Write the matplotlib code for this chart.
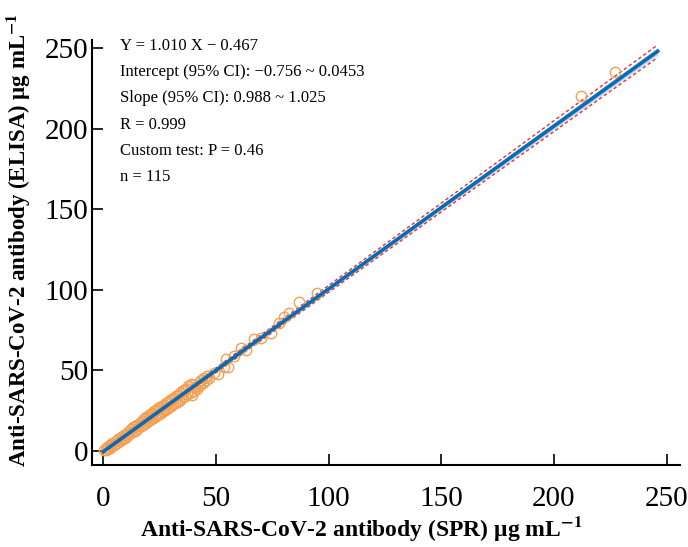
import matplotlib
matplotlib.use("Agg")
import matplotlib.pyplot as plt
import numpy as np

plt.rcParams['font.family'] = ['Liberation Serif', 'DejaVu Serif']
plt.rcParams['mathtext.fontset'] = 'stix'

spr = [0.5, 1.2, 1.6, 2.0, 2.8, 3.0, 3.5, 4.1, 4.8, 5.5, 6.0, 6.7, 7.3, 8.0, 8.6, 9.2, 9.5, 9.9,
       10.5, 11.0, 11.6, 12.2, 12.8, 13.3, 13.9, 14.0, 14.4, 15.0, 15.5, 16.1, 16.6, 17.2, 17.7,
       18.1, 18.6, 18.9, 19.0, 19.5, 19.9, 20.4, 20.8, 21.0, 21.3, 21.7, 22.1, 22.6, 23.0, 23.4,
       23.9, 24.3, 24.7, 25.2, 25.6, 26.0, 26.5, 26.9, 27.0, 27.3, 27.8, 28.2, 28.6, 29.1, 29.5,
       30.0, 30.4, 30.9, 31.3, 31.8, 32.2, 32.7, 33.1, 33.6, 34.0, 34.5, 35.0, 35.4, 35.9, 36.4,
       36.9, 37.3, 37.8, 38.3, 38.8, 39.3, 39.8, 40.3, 40.8, 41.4, 41.9, 42.5, 43.0, 43.6, 44.2,
       44.8, 45.5, 46.2, 47.0, 49.0, 51.0, 53.5, 54.6, 55.5, 58.0, 61.0, 63.5, 67.0, 70.0, 74.6,
       78.0, 80.4, 82.6, 87.0, 95.0, 212.0, 227.0]
elisa = [0.3, 0.8, 2.4, 1.2, 3.6, 2.1, 2.8, 4.9, 3.9, 6.4, 5.1, 7.5, 6.2, 8.8, 7.4, 9.9, 8.3, 10.8,
         9.2, 11.9, 10.3, 13.4, 11.5, 14.6, 12.4, 15.3, 13.0, 16.2, 14.1, 17.4, 15.2, 18.3, 16.0,
         19.6, 17.1, 20.8, 17.6, 21.2, 18.4, 22.3, 19.1, 23.0, 20.2, 23.6, 20.4, 24.5, 21.3, 25.6,
         22.1, 26.4, 23.0, 27.5, 23.8, 28.1, 24.6, 28.7, 26.0, 25.1, 29.6, 26.3, 30.4, 27.2, 31.3,
         28.0, 32.4, 29.1, 33.0, 29.8, 34.1, 30.6, 35.0, 31.2, 36.2, 32.3, 37.1, 33.5, 38.0, 34.2,
         38.6, 35.6, 40.2, 36.1, 41.5, 34.8, 41.0, 37.2, 39.9, 38.6, 40.5, 42.3, 41.0, 43.8, 42.4,
         45.1, 44.0, 46.4, 45.5, 48.6, 47.5, 52.0, 57.0, 52.3, 58.8, 64.0, 62.6, 69.5, 70.2, 73.0,
         79.3, 83.0, 85.6, 92.4, 98.0, 220.0, 235.0]

slope, intercept = 1.010, -0.467
x_range = [0, 246]
# band half-widths (data units) at the two ends of the fitted line
ci_band_halfwidth = [0.8, 2.4]
dash_band_halfwidth = [0.9, 3.9]

xticks = [0, 50, 100, 150, 200, 250]
yticks = [0, 50, 100, 150, 200, 250]

annot = ["Y = 1.010 X \u2212 0.467",
         "Intercept (95% CI): \u22120.756 ~ 0.0453",
         "Slope (95% CI): 0.988 ~ 1.025",
         "R = 0.999",
         "Custom test: P = 0.46",
         "n = 115"]

fig = plt.figure(figsize=(6.88, 5.47), dpi=100)
ax = fig.add_axes([0.134, 0.150, 0.854, 0.777])

xs = np.linspace(x_range[0], x_range[1], 200)
fit = slope * xs + intercept
t = (xs - x_range[0]) / (x_range[1] - x_range[0])
hw_ci = ci_band_halfwidth[0] + t * (ci_band_halfwidth[1] - ci_band_halfwidth[0])
hw_d = dash_band_halfwidth[0] + t * (dash_band_halfwidth[1] - dash_band_halfwidth[0])

ax.fill_between(xs, fit - hw_ci, fit + hw_ci, color='#b5dcf2', lw=0, zorder=2)
ax.plot(xs, fit + hw_d, color='#e8312a', lw=1.0, ls=(0, (2.5, 1.8)), zorder=3)
ax.plot(xs, fit - hw_d, color='#e8312a', lw=1.0, ls=(0, (2.5, 1.8)), zorder=3)
ax.plot(spr, elisa, 'o', mfc='none', mec='#f5a055', mew=1.0, ms=7.5, zorder=4)
ax.plot(xs, fit, color='#0a6bb5', lw=2.6, zorder=5)

ax.set_xlim(-4.9, 255.8)
ax.set_ylim(-8.7, 255)
ax.set_xticks(xticks)
ax.set_yticks(yticks)
ax.tick_params(direction='in', length=8, width=1.2, labelsize=21)
ax.tick_params(axis='x', pad=15)
ax.tick_params(axis='y', pad=3)
for s in ['top', 'right']:
    ax.spines[s].set_visible(False)
for s in ['left', 'bottom']:
    ax.spines[s].set_linewidth(1.5)

ax.set_xlabel("Anti-SARS-CoV-2 antibody (SPR) \u03bcg mL$^{\\mathbf{\u22121}}$", fontsize=17,
              fontweight='bold')
ax.set_ylabel("Anti-SARS-CoV-2 antibody (ELISA) \u03bcg mL$^{\\mathbf{\u22121}}$", fontsize=16.5,
              fontweight='bold')
ax.xaxis.set_label_coords(0.458, -0.116)
ax.yaxis.set_label_coords(-0.101, 0.53)

for i, txt in enumerate(annot):
    fig.text(120 / 688, 1 - (46 + i * 26.2) / 547, txt, fontsize=12, va='center', ha='left')

fig.savefig("out.png", dpi=100)
